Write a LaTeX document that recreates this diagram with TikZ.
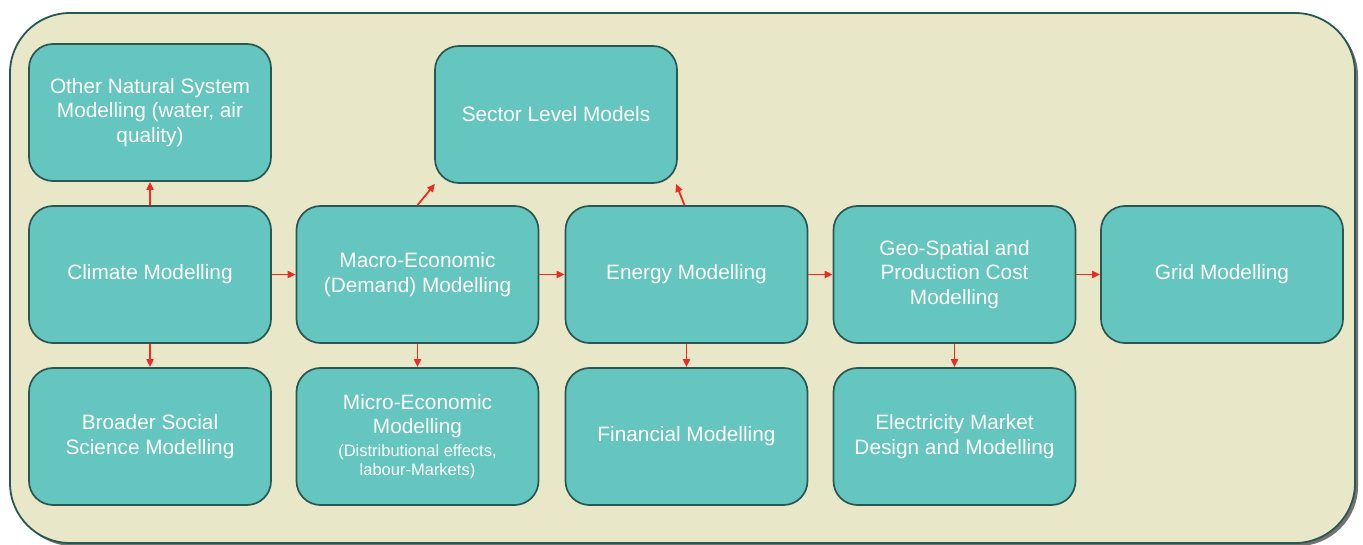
\documentclass[tikz,border=0pt]{standalone}
\usepackage{fontspec}
\setmainfont{Liberation Sans}
\usetikzlibrary{arrows.meta}
\definecolor{bgc}{HTML}{E8E7C8}
\definecolor{boxc}{HTML}{64C6BE}
\definecolor{edgec}{HTML}{2B5752}
\definecolor{arrc}{HTML}{EE2A24}
\tikzset{
  mbox/.style={draw=edgec, line width=1.7pt, fill=boxc, rounded corners=24pt,
    minimum width=242pt, minimum height=137pt, text=white, align=center,
    font=\fontsize{20.8}{24.5}\selectfont, inner sep=2pt},
  conn/.style={draw=arrc, line width=1.8pt, -{Triangle[length=8pt,width=7pt]}}
}
\newcommand{\smalltxt}{\fontsize{16.5}{20}\selectfont}
\begin{document}
\begin{tikzpicture}[x=1pt,y=-1pt]
\useasboundingbox (0,0) rectangle (1363,545);
\fill[black!55, rounded corners=60pt] (13,16) rectangle (1358,546);
\draw[draw=edgec, line width=1.8pt, fill=bgc, rounded corners=60pt] (10,13) rectangle (1355,543);
\node[mbox] (other) at (150,112.5) {Other Natural System\\Modelling (water, air\\quality)};
\node[mbox] (climate) at (150,274.5) {Climate Modelling};
\node[mbox] (social) at (150,436.5) {Broader Social\\Science Modelling};
\node[mbox] (macro) at (417.5,274.5) {Macro-Economic\\(Demand) Modelling};
\node[mbox] (micro) at (417.5,436.5) {Micro-Economic\\Modelling\\[-2pt]{\smalltxt (Distributional effects,}\\[-5pt]{\smalltxt labour-Markets)}};
\node[mbox] (sector) at (556,114.5) {Sector Level Models};
\node[mbox] (energy) at (686.5,274.5) {Energy Modelling};
\node[mbox] (fin) at (686.5,436.5) {Financial Modelling};
\node[mbox] (geo) at (954.5,274.5) {Geo-Spatial and\\Production Cost\\Modelling};
\node[mbox] (elec) at (954.5,436.5) {Electricity Market\\Design and Modelling};
\node[mbox] (grid) at (1222,274.5) {Grid Modelling};
\draw[conn] (climate.north) -- (other.south);
\draw[conn] (climate.south) -- (social.north);
\draw[conn] (climate.east) -- (macro.west);
\draw[conn] (macro.south) -- (micro.north);
\draw[conn] (macro.east) -- (energy.west);
\draw[conn] (macro.north) -- ([xshift=-121pt]sector.south);
\draw[conn] ([xshift=-2pt]energy.north) -- ([xshift=120pt]sector.south);
\draw[conn] (energy.south) -- (fin.north);
\draw[conn] (energy.east) -- (geo.west);
\draw[conn] (geo.south) -- (elec.north);
\draw[conn] (geo.east) -- (grid.west);
\end{tikzpicture}
\end{document}
